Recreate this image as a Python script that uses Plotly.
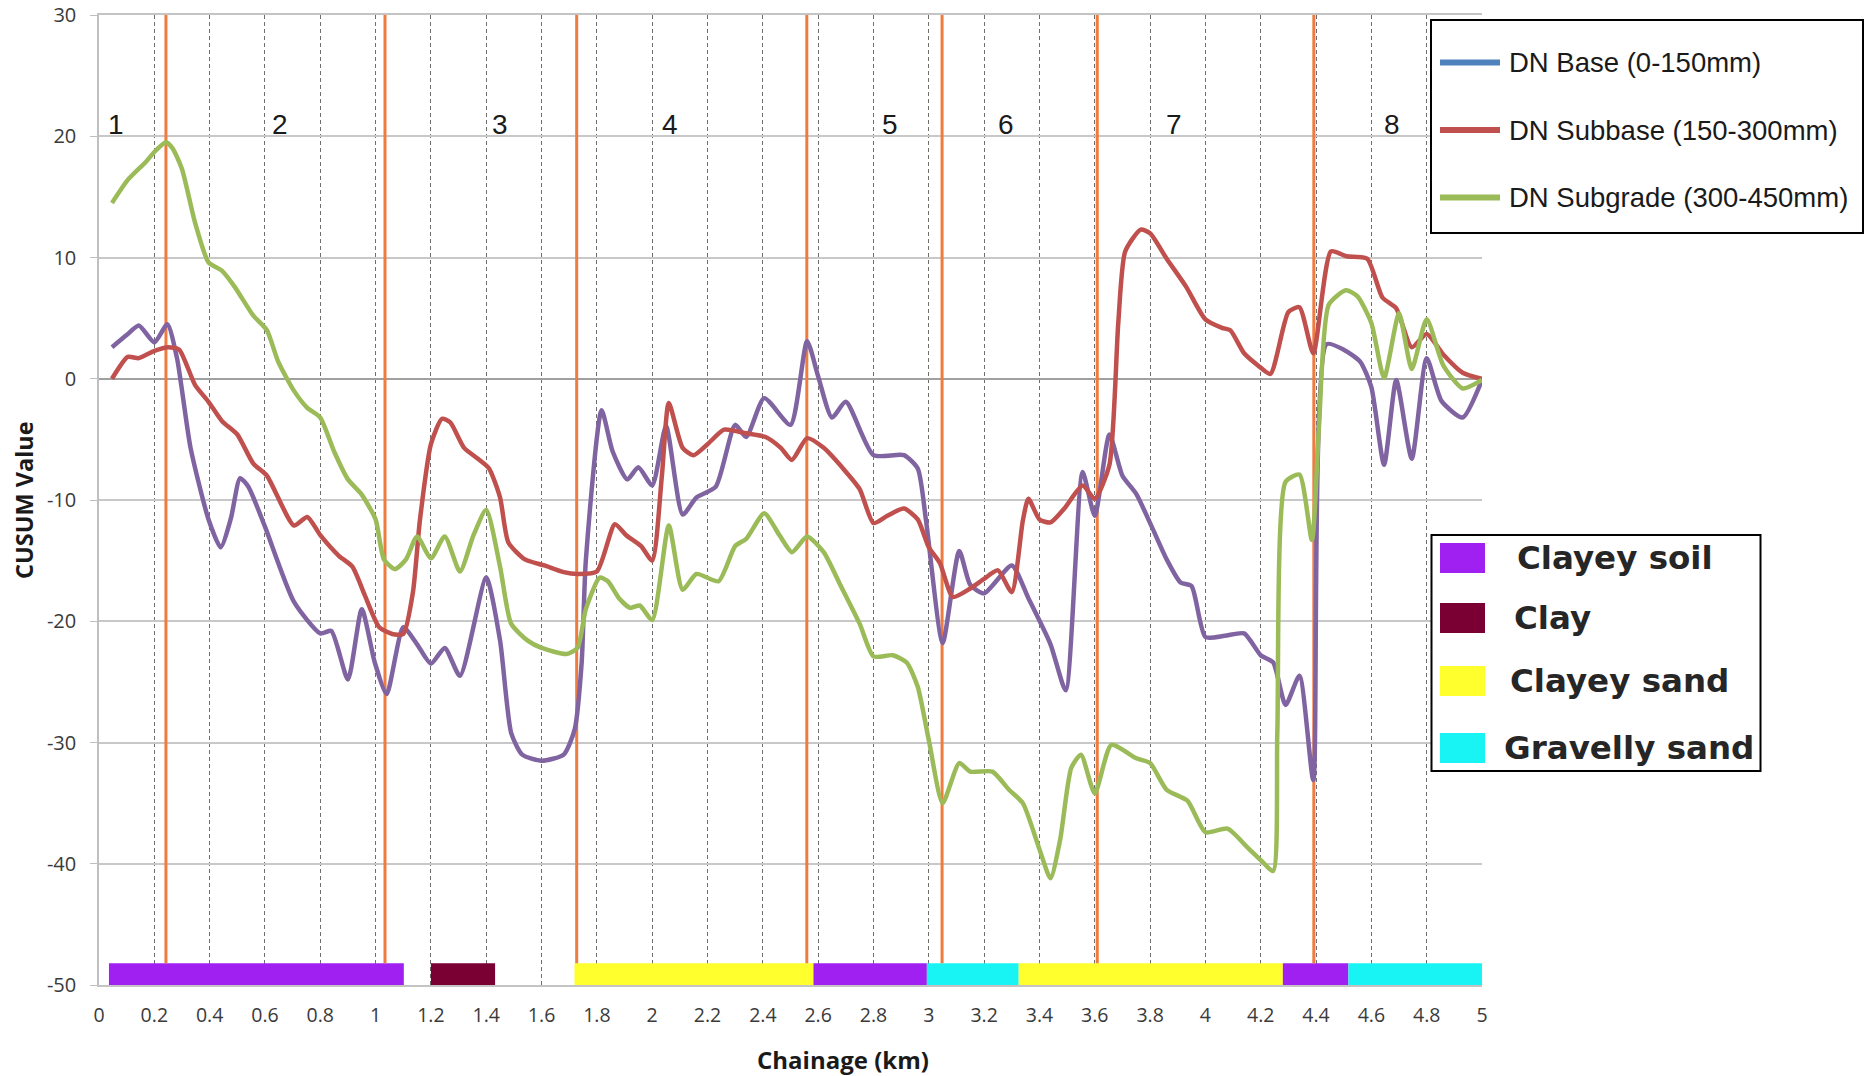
import plotly.graph_objects as go

# ---------------- data ----------------
base_x = [0.047, 0.10, 0.144, 0.20, 0.247, 0.282, 0.331, 0.396, 0.44, 0.477, 0.51, 0.54, 0.60, 0.705,
          0.80, 0.84, 0.90, 0.95, 0.997, 1.04, 1.10, 1.15, 1.20, 1.25, 1.305, 1.40, 1.45, 1.49, 1.53,
          1.60, 1.68, 1.72, 1.745, 1.76, 1.817, 1.857, 1.91, 1.95, 2.0, 2.05, 2.11, 2.16, 2.23, 2.30,
          2.34, 2.405, 2.50, 2.56, 2.60, 2.65, 2.70, 2.80, 2.91, 2.96, 2.99, 3.05, 3.11, 3.15, 3.20,
          3.30, 3.36, 3.44, 3.495, 3.556, 3.60, 3.653, 3.70, 3.75, 3.81, 3.86, 3.91, 3.95, 4.0, 4.07,
          4.14, 4.2, 4.245, 4.29, 4.34, 4.39, 4.438, 4.50, 4.56, 4.60, 4.646, 4.69, 4.746, 4.80,
          4.854, 4.93, 5.0]
base_y = [2.6, 3.6, 4.4, 3.0, 4.5, 1.7, -5.7, -11.6, -13.9, -11.5, -8.2, -8.9, -12.2, -18.4,
          -21.0, -20.8, -24.8, -19.0, -23.4, -26.0, -20.5, -21.9, -23.5, -22.2, -24.5, -16.4, -21.6, -29.2, -31.0,
          -31.5, -31.0, -28.9, -23.4, -15.0, -2.6, -6.0, -8.3, -7.3, -8.8, -3.9, -11.2, -9.8, -8.9, -3.8,
          -4.8, -1.6, -3.8, 3.1, 0.2, -3.2, -1.9, -6.3, -6.3, -7.4, -11.7, -21.8, -14.2, -17.0, -17.7,
          -15.4, -18.1, -21.9, -25.7, -7.7, -11.3, -4.6, -8.0, -9.5, -12.4, -14.9, -16.8, -17.1, -21.3, -21.2,
          -21.0, -22.8, -23.4, -26.9, -24.5, -33.1, 2.85, 2.4, 1.4, -0.7, -7.1, -0.1, -6.6, 1.7,
          -1.85, -3.2, -0.1]

subbase_x = [0.047, 0.104, 0.144, 0.20, 0.25, 0.29, 0.347, 0.396, 0.445, 0.50, 0.558, 0.607, 0.705, 0.753,
             0.80, 0.867, 0.916, 0.96, 1.013, 1.06, 1.10, 1.135, 1.16, 1.20, 1.24, 1.27, 1.32, 1.37, 1.41,
             1.45, 1.48, 1.54, 1.61, 1.68, 1.73, 1.80, 1.865, 1.906, 1.96, 2.0, 2.035, 2.06, 2.11, 2.15,
             2.20, 2.26, 2.34, 2.41, 2.465, 2.505, 2.56, 2.62, 2.69, 2.75, 2.80, 2.85, 2.91, 2.96, 3.0,
             3.04, 3.087, 3.15, 3.20, 3.25, 3.30, 3.34, 3.36, 3.40, 3.44, 3.49, 3.556, 3.60, 3.653, 3.685,
             3.71, 3.766, 3.80, 3.86, 3.93, 4.0, 4.06, 4.09, 4.14, 4.19, 4.235, 4.30, 4.34, 4.39, 4.454,
             4.51, 4.585, 4.64, 4.69, 4.746, 4.80, 4.86, 4.93, 5.0]
subbase_y = [0.0, 1.8, 1.7, 2.3, 2.6, 2.4, -0.5, -1.9, -3.5, -4.6, -7.0, -8.0, -12.1, -11.4,
             -12.9, -14.6, -15.5, -17.8, -20.5, -21.05, -21.05, -17.6, -11.7, -5.4, -3.3, -3.6, -5.7, -6.6, -7.4,
             -9.8, -13.5, -14.9, -15.4, -15.95, -16.1, -15.9, -12.0, -12.9, -13.8, -15.0, -8.0, -2.0, -5.7, -6.3,
             -5.4, -4.2, -4.5, -4.8, -5.7, -6.7, -4.9, -5.7, -7.4, -9.1, -11.9, -11.3, -10.7, -11.6, -13.9,
             -15.2, -18.0, -17.3, -16.5, -15.8, -17.6, -11.7, -9.9, -11.6, -11.85, -10.7, -8.8, -9.9, -7.1, 4.6,
             10.5, 12.3, 12.0, 9.9, 7.6, 4.9, 4.2, 4.0, 2.1, 1.1, 0.4, 5.5, 5.9, 2.1, 10.5,
             10.1, 9.9, 6.7, 5.8, 2.6, 3.7, 2.0, 0.5, 0.0]

subgrade_x = [0.047, 0.104, 0.17, 0.20, 0.242, 0.266, 0.30, 0.347, 0.396, 0.445, 0.49, 0.558, 0.607, 0.648,
              0.705, 0.753, 0.80, 0.85, 0.90, 0.948, 1.0, 1.03, 1.07, 1.11, 1.15, 1.20, 1.25, 1.305, 1.354,
              1.40, 1.45, 1.49, 1.55, 1.60, 1.69, 1.73, 1.76, 1.81, 1.84, 1.88, 1.92, 1.955, 2.0, 2.06,
              2.11, 2.16, 2.24, 2.30, 2.34, 2.405, 2.46, 2.505, 2.56, 2.62, 2.68, 2.75, 2.80, 2.87, 2.92,
              2.96, 3.0, 3.05, 3.11, 3.15, 3.23, 3.29, 3.34, 3.40, 3.44, 3.475, 3.515, 3.55, 3.60, 3.66,
              3.75, 3.80, 3.86, 3.935, 4.0, 4.08, 4.15, 4.2, 4.245, 4.26, 4.29, 4.34, 4.385, 4.41, 4.446,
              4.508, 4.55, 4.60, 4.646, 4.70, 4.746, 4.80, 4.86, 4.93, 5.0]
subgrade_y = [14.5, 16.4, 17.9, 18.7, 19.5, 19.0, 17.3, 12.9, 9.6, 8.9, 7.6, 5.2, 4.0, 1.4,
              -1.0, -2.4, -3.2, -6.0, -8.3, -9.5, -11.6, -14.9, -15.7, -14.9, -13.0, -14.8, -13.0, -15.9, -12.9,
              -10.8, -15.5, -20.2, -21.6, -22.2, -22.7, -22.2, -19.0, -16.4, -16.7, -18.1, -18.9, -18.7, -19.9, -12.1,
              -17.4, -16.1, -16.7, -13.8, -13.2, -11.1, -12.9, -14.3, -13.0, -14.3, -17.0, -20.2, -22.9, -22.8, -23.4,
              -25.4, -29.8, -35.0, -31.7, -32.4, -32.4, -33.9, -35.0, -38.8, -41.2, -38.0, -32.1, -31.0, -34.2, -30.2,
              -31.3, -31.7, -33.9, -34.8, -37.4, -37.1, -38.6, -39.7, -40.6, -29.2, -8.5, -7.9, -13.3, -4.2, 6.1,
              7.3, 6.8, 4.6, 0.06, 5.4, 0.8, 4.9, 1.1, -0.8, -0.1]

series_names = ["DN Base (0-150mm)", "DN Subbase (150-300mm)", "DN Subgrade (300-450mm)"]
line_colors = ["#8064A2", "#C0504D", "#9BBB59"]
legend_swatch_colors = ["#4F81BD", "#C0504D", "#9BBB59"]

boundaries = [0.242, 1.034, 1.727, 2.559, 3.048, 3.609, 4.392]
section_labels = ["1", "2", "3", "4", "5", "6", "7", "8"]
section_label_x = [0.06, 0.656, 1.448, 2.063, 2.858, 3.28, 3.885, 4.674]
section_label_y = 21.0

soil_start = [0.036, 1.200, 1.719, 2.583, 2.993, 3.325, 4.280, 4.517]
soil_end = [1.102, 1.432, 2.583, 2.993, 3.325, 4.280, 4.517, 5.000]
soil_type = ["Clayey soil", "Clay", "Clayey sand", "Clayey soil", "Gravelly sand",
             "Clayey sand", "Clayey soil", "Gravelly sand"]
soil_names = ["Clayey soil", "Clay", "Clayey sand", "Gravelly sand"]
soil_colors = ["#A020F2", "#7A0034", "#FFFF2E", "#18F4F4"]

x_ticks = [0, 0.2, 0.4, 0.6, 0.8, 1, 1.2, 1.4, 1.6, 1.8, 2, 2.2, 2.4, 2.6, 2.8, 3, 3.2, 3.4,
           3.6, 3.8, 4, 4.2, 4.4, 4.6, 4.8, 5]
y_ticks = [30, 20, 10, 0, -10, -20, -30, -40, -50]

# ---------------- figure ----------------
W, H = 1866, 1076
L, R, T, B = 99, 1482, 15, 985


def pxx(p):
    return (p - L) / (R - L)


def pxy(p):
    return (B - p) / (B - T)


Y_MIN, Y_MAX = -50, 30
BAND_TOP = -48.2
ORANGE = "#F07B3F"

fig = go.Figure()

# section boundary lines
bx, by = [], []
for b in boundaries:
    bx += [b, b, None]
    by += [BAND_TOP, Y_MAX, None]
fig.add_trace(go.Scatter(x=bx, y=by, mode="lines", line=dict(color=ORANGE, width=3),
                         showlegend=False, hoverinfo="skip"))

# soil bars
color_map = dict(zip(soil_names, soil_colors))
fig.add_trace(go.Bar(
    base=soil_start,
    x=[e - s for s, e in zip(soil_start, soil_end)],
    y=[(Y_MIN + BAND_TOP) / 2] * len(soil_start),
    width=BAND_TOP - Y_MIN,
    orientation="h",
    marker=dict(color=[color_map[t] for t in soil_type], line=dict(width=0)),
    showlegend=False,
    hoverinfo="skip",
))

for xs, ys, name, col in zip([base_x, subbase_x, subgrade_x], [base_y, subbase_y, subgrade_y],
                             series_names, line_colors):
    fig.add_trace(go.Scatter(x=xs, y=ys, mode="lines", name=name,
                             line=dict(color=col, width=4.5, shape="spline", smoothing=0.6),
                             showlegend=False))

shapes = []
annotations = []

# section labels
for lab, lx in zip(section_labels, section_label_x):
    annotations.append(dict(x=lx, y=section_label_y, xref="x", yref="y", text=lab, showarrow=False,
                            font=dict(family="Liberation Sans, Arial", size=28, color="#1a1a1a")))

# legend 1 (series)
shapes.append(dict(type="rect", xref="paper", yref="paper", x0=pxx(1431), x1=pxx(1863),
                   y0=pxy(233), y1=pxy(20), line=dict(color="black", width=2), fillcolor="white",
                   layer="above"))
for i, (name, col) in enumerate(zip(series_names, legend_swatch_colors)):
    yc = 62.5 + i * 67.5
    shapes.append(dict(type="line", xref="paper", yref="paper", x0=pxx(1440), x1=pxx(1500),
                       y0=pxy(yc), y1=pxy(yc), line=dict(color=col, width=6)))
    annotations.append(dict(x=pxx(1507), y=pxy(yc), xref="paper", yref="paper", text=name,
                            showarrow=False, xanchor="left", yanchor="middle",
                            font=dict(family="Liberation Sans, Arial", size=27.5, color="#1a1a1a")))

# legend 2 (soil)
shapes.append(dict(type="rect", xref="paper", yref="paper", x0=pxx(1431.5), x1=pxx(1760.5),
                   y0=pxy(771), y1=pxy(535), line=dict(color="black", width=2), fillcolor="white",
                   layer="above"))
soil_leg_y = [558, 618, 681, 748]
soil_text_x = [1515, 1512, 1508, 1502]
for name, col, yc, tx in zip(soil_names, soil_colors, soil_leg_y, soil_text_x):
    shapes.append(dict(type="rect", xref="paper", yref="paper", x0=pxx(1440), x1=pxx(1485),
                       y0=pxy(yc + 15), y1=pxy(yc - 15), line=dict(width=0), fillcolor=col))
    annotations.append(dict(x=pxx(tx), y=pxy(yc), xref="paper", yref="paper", text=name,
                            showarrow=False, xanchor="left", yanchor="middle",
                            font=dict(family="DejaVu Sans", size=32.5, color="#262626", weight="bold")))

# axis titles
annotations.append(dict(x=pxx(24), y=pxy(500), xref="paper", yref="paper", text="CUSUM Value",
                        textangle=-90, showarrow=False, xanchor="center", yanchor="middle",
                        font=dict(family="Open Sans", size=23.5, color="#1a1a1a", weight="bold")))
annotations.append(dict(x=pxx(843), y=pxy(1059), xref="paper", yref="paper", text="Chainage (km)",
                        showarrow=False, xanchor="center", yanchor="middle",
                        font=dict(family="Open Sans", size=24, color="#1a1a1a", weight="bold")))

fig.update_layout(
    width=W, height=H,
    margin=dict(l=L, r=W - R, t=T, b=H - B, pad=0, autoexpand=False),
    paper_bgcolor="white", plot_bgcolor="white",
    barmode="overlay",
    showlegend=False,
    shapes=shapes,
    annotations=annotations,
    xaxis=dict(range=[0, 5], tickmode="array", tickvals=x_ticks,
               ticktext=[f"{v:g}" for v in x_ticks], automargin=False,
               showgrid=True, gridcolor="#6e6e6e", gridwidth=1, griddash="4px,3px",
               showline=True, linecolor="#C4C4C4", linewidth=1.5, mirror=True, zeroline=False,
               ticks="", ticklabelstandoff=12, ticklabeloverflow="allow",
               tickfont=dict(family="Open Sans", size=19.5, color="#3a3a3a")),
    yaxis=dict(range=[Y_MIN, Y_MAX], tickmode="array", tickvals=y_ticks,
               ticktext=[str(v) for v in y_ticks], automargin=False,
               showgrid=True, gridcolor="#C8C8C8", gridwidth=1.5,
               zeroline=True, zerolinecolor="#A0A0A0", zerolinewidth=1.5,
               showline=True, linecolor="#BFBFBF", linewidth=1.5,
               ticks="outside", ticklen=7, tickcolor="#BFBFBF", ticklabelstandoff=10,
               ticklabeloverflow="allow",
               tickfont=dict(family="Open Sans", size=20, color="#3a3a3a")),
)

fig.write_html("out.html", config={"displayModeBar": False},
               post_script="document.body.style.margin='0';document.body.style.overflow='hidden';")
